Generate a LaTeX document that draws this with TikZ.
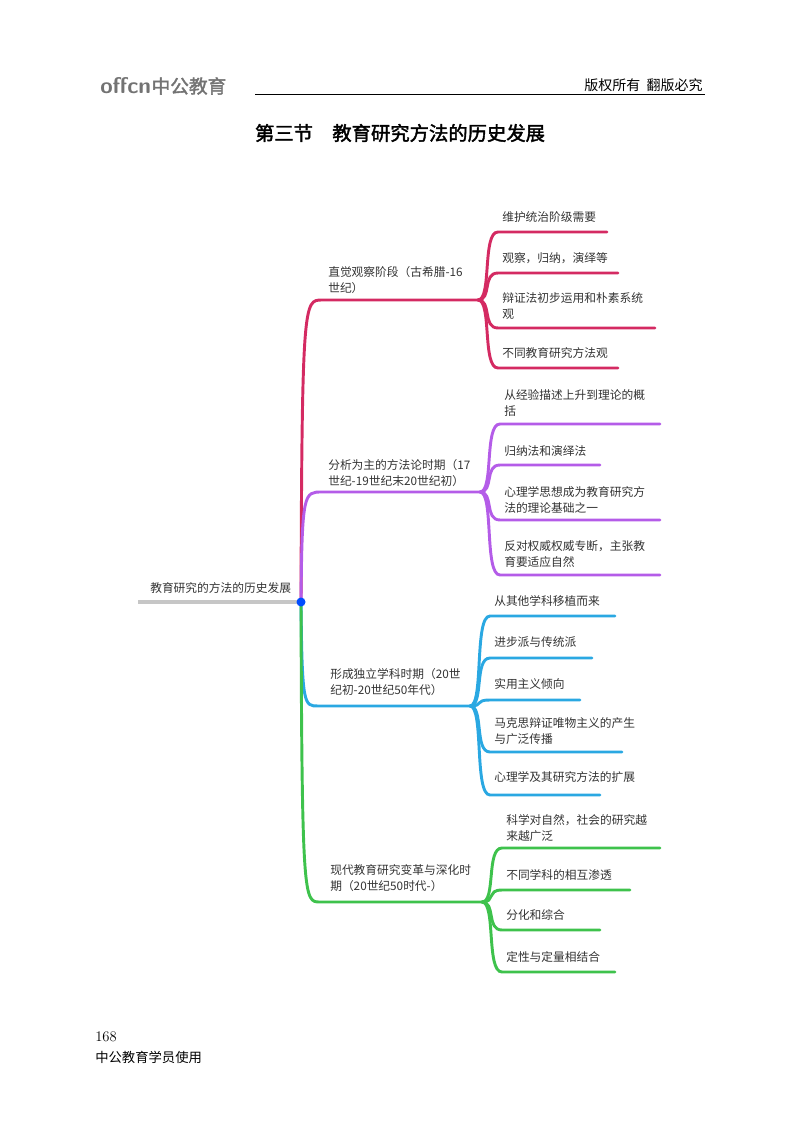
\documentclass[tikz,border=0pt]{standalone}
\usepackage{fontspec}
\usetikzlibrary{calc}
\newfontfamily\cjk[AutoFakeBold=2]{Noto Sans CJK SC}
\newfontfamily\cjkserif{Noto Sans CJK SC}
\definecolor{cr}{HTML}{D42A62}
\definecolor{pu}{HTML}{B45CE8}
\definecolor{bl}{HTML}{2AA8E2}
\definecolor{gr}{HTML}{3EC24C}
\definecolor{txt}{HTML}{333333}
\begin{document}
\begin{tikzpicture}[x=0.75pt,y=-0.75pt,
  lbl/.style={anchor=west,align=left,font=\cjk\fontsize{8.8}{12}\selectfont,text=txt,inner sep=0pt},
  br/.style={line width=2.2pt,line cap=round},
]
\useasboundingbox (0,0) rectangle (800,1124);
% header
\node[anchor=west,inner sep=0pt,text=gray!90!black,font=\sffamily\bfseries\fontsize{17}{17}\selectfont] (logo) at (100,86) {offcn};
\node[anchor=west,inner sep=0pt,text=gray!90!black,font=\cjk\bfseries\fontsize{14}{14}\selectfont] (logo2) at (logo.east) {中公教育};
\node[anchor=east,inner sep=0pt,font=\cjk\fontsize{10.5}{12}\selectfont] (rights) at (703,85) {版权所有\ \ 翻版必究};
\coordinate (hl) at (255,94); \coordinate (hr) at (705,94);
\draw[line width=0.7pt] (hl) -- (hr);
\node[font=\cjk\bfseries\fontsize{14.5}{16}\selectfont] (title) at (400,133) {第三节\quad 教育研究方法的历史发展};
% root
\node[lbl] (rootl) at (150,588) {教育研究的方法的历史发展};
\coordinate (r0) at (138,602);
\coordinate (dot) at (301,602);
\draw[line width=2.4pt,gray!45] (r0) -- (dot);
\newcommand{\branch}[5]{% color, y, xstart, xend, name
  \coordinate (#5s) at (#3,#2); \coordinate (#5e) at (#4,#2);
  \draw[br,#1] (dot) .. controls (302,#2) and (304,#2) .. (#5s) -- (#5e);}
\branch{cr}{300}{322}{478}{b1}
\branch{pu}{492}{322}{480}{b2}
\branch{bl}{706}{318}{470}{b3}
\branch{gr}{902}{320}{482}{b4}
\fill[blue!70!cyan] (dot) circle (4.5);
\node[lbl] (l1) at (328,280) {直觉观察阶段（古希腊-16\\世纪）};
\node[lbl] (l2) at (328,473) {分析为主的方法论时期（17\\世纪-19世纪末20世纪初）};
\node[lbl] (l3) at (330,682) {形成独立学科时期（20世\\纪初-20世纪50年代）};
\node[lbl] (l4) at (330,878) {现代教育研究变革与深化时\\期（20世纪50时代-）};
% leaves: color, parent name, px, y, xend, text-y, text
\newcommand{\lf}[7]{%
  \draw[br,#1] (#2) .. controls ($(#2)+(14,0)$) and (#3+4,#4) .. (#3+20,#4) -- (#5,#4);
  \node[lbl] at (#3+24,#6) {#7};}
\lf{cr}{b1e}{478}{232}{607}{217}{维护统治阶级需要}
\lf{cr}{b1e}{478}{273}{618}{258}{观察，归纳，演绎等}
\lf{cr}{b1e}{478}{328}{655}{306}{辩证法初步运用和朴素系统\\观}
\lf{cr}{b1e}{478}{368}{618}{353}{不同教育研究方法观}
\lf{pu}{b2e}{480}{424}{660}{403}{从经验描述上升到理论的概\\括}
\lf{pu}{b2e}{480}{465}{600}{451}{归纳法和演绎法}
\lf{pu}{b2e}{480}{520}{660}{500}{心理学思想成为教育研究方\\法的理论基础之一}
\lf{pu}{b2e}{480}{575}{660}{554}{反对权威权威专断，主张教\\育要适应自然}
\lf{bl}{b3e}{470}{616}{615}{601}{从其他学科移植而来}
\lf{bl}{b3e}{470}{658}{592}{642}{进步派与传统派}
\lf{bl}{b3e}{470}{700}{580}{684}{实用主义倾向}
\lf{bl}{b3e}{470}{752}{622}{731}{马克思辩证唯物主义的产生\\与广泛传播}
\lf{bl}{b3e}{470}{795}{600}{777}{心理学及其研究方法的扩展}
\lf{gr}{b4e}{482}{848}{660}{828}{科学对自然，社会的研究越\\来越广泛}
\lf{gr}{b4e}{482}{890}{630}{875}{不同学科的相互渗透}
\lf{gr}{b4e}{482}{930}{600}{915}{分化和综合}
\lf{gr}{b4e}{482}{972}{615}{957}{定性与定量相结合}
% footer
\node[anchor=west,inner sep=0pt,font=\fontsize{11}{12}\selectfont] (pg) at (95,1037) {168};
\node[anchor=west,inner sep=0pt,font=\cjkserif\fontsize{10}{12}\selectfont] (ft) at (95,1057) {中公教育学员使用};
\end{tikzpicture}
\end{document}
